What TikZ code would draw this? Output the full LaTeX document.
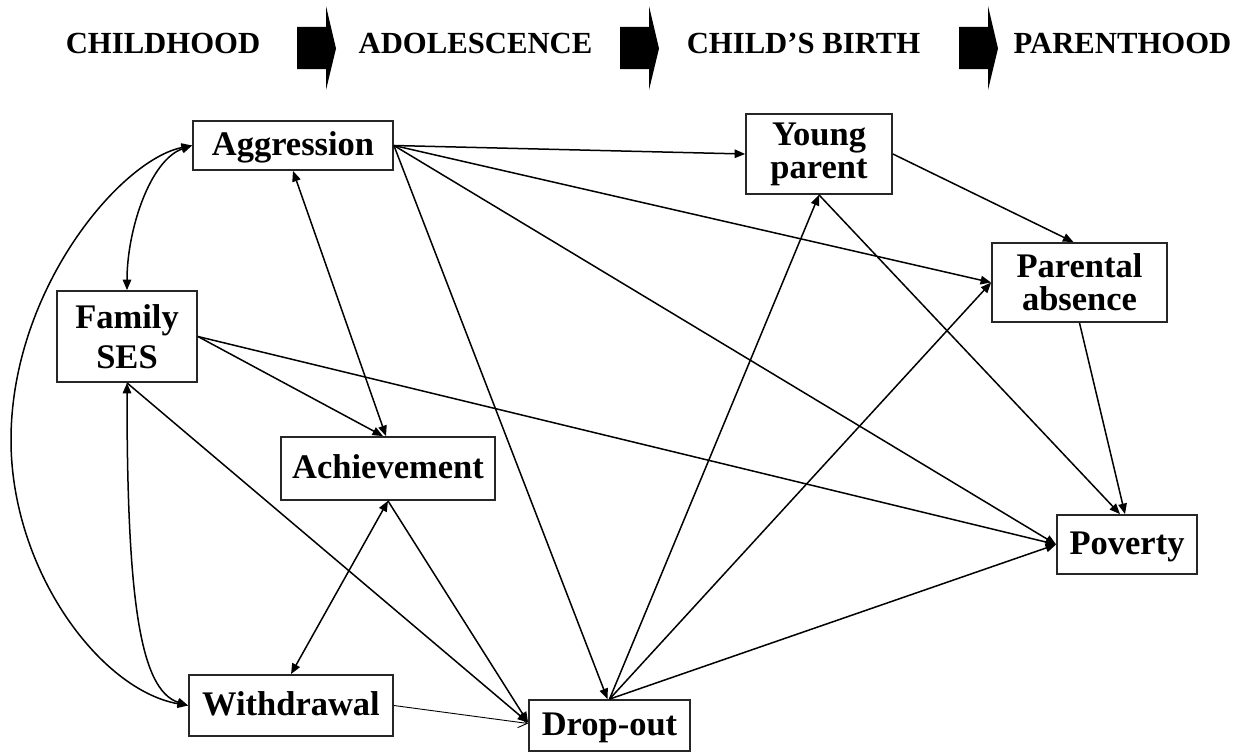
\documentclass[tikz,border=0pt]{standalone}
\usepackage{fontspec}
\setmainfont{Liberation Serif}
\usetikzlibrary{arrows.meta,calc}
\begin{document}
\begin{tikzpicture}[x=1pt,y=-1pt,
  box/.style={draw=black!85, line width=1.8pt, inner sep=0pt, align=center,
    font=\fontsize{34.5}{33}\selectfont\bfseries},
  one/.style={text height=24pt, text depth=4pt},
  hdr/.style={font=\fontsize{30.7}{32}\selectfont\bfseries, inner sep=0pt, anchor=base},
  conn/.style={line width=1.5pt, -{Triangle[length=10.5pt,width=8.5pt]}},
  biconn/.style={line width=1.5pt, {Triangle[length=10.5pt,width=8.5pt]}-{Triangle[length=10.5pt,width=8.5pt]}},
  thinconn/.style={line width=0.9pt, -{Straight Barb[length=9pt,width=11pt]}},
  hdrarrow/.pic={\fill (0,27) -- (29,27) -- (29,6) -- (39,48.5) -- (29,90) -- (29,69) -- (0,69) -- cycle;}
]
\useasboundingbox (0,0) rectangle (1252,752);

% header
\node[hdr] (h1) at (163,54) {CHILDHOOD};
\node[hdr] (h2) at (475.5,54) {ADOLESCENCE};
\node[hdr] (h3) at (803.5,54) {CHILD’S BIRTH};
\node[hdr] (h4) at (1122.5,54) {PARENTHOOD};
\pic at (297,0) {hdrarrow};
\pic at (620,0) {hdrarrow};
\pic at (959,0) {hdrarrow};

% boxes
\node[box, one, minimum width=200pt, minimum height=49pt] (agg) at (293,145.5) {Aggression};
\node[box, minimum width=140pt, minimum height=91pt] (fam) at (127,336.5) {Family\\[7pt]SES};
\node[box, one, minimum width=214pt, minimum height=63pt] (ach) at (388,468.5) {Achievement};
\node[box, one, minimum width=204pt, minimum height=61pt] (with) at (291,705.5) {Withdrawal};
\node[box, one, minimum width=161pt, minimum height=51pt] (drop) at (609.5,725.5) {Drop-out};
\node[box, minimum width=146pt, minimum height=80pt] (young) at (819,154) {Young\\parent};
\node[box, minimum width=175pt, minimum height=79pt] (par) at (1079.5,282.5) {Parental\\absence};
\node[box, one, minimum width=140pt, minimum height=59pt] (pov) at (1127,544.5) {Poverty};

\coordinate (lm) at (11,440);

% curved correlations
\draw[biconn] (fam.north) .. controls (127,230) and (150,160) .. (agg.west);
\draw[biconn] (agg.west) .. controls (120,160) and (11,290) .. (lm) .. controls (11,570) and (100,690) .. (with.west);
\draw[biconn] (fam.south) .. controls (127,600) and (140,690) .. (with.west);

% straight correlations
\draw[biconn] (agg.south) -- ([xshift=-2pt]ach.north);
\draw[biconn] (ach.south) -- (with.north);

% paths
\draw[conn] (fam.east) -- ([xshift=-5pt]ach.north);
\draw[conn] (fam.east) -- (pov.west);
\draw[conn] (fam.south) -- ([yshift=3pt]drop.west);
\draw[thinconn] (with.east) -- ([yshift=2pt]drop.west);
\draw[conn] (ach.south) -- ([yshift=3pt]drop.west);
\draw[conn] (agg.east) -- ([xshift=-2pt]drop.north);
\draw[conn] (agg.east) -- (young.west);
\draw[conn] (agg.east) -- (par.west);
\draw[conn] (agg.east) -- (pov.west);
\draw[conn] (young.east) -- ([xshift=-6pt]par.north);
\draw[conn] (young.south) -- ([xshift=-7pt]pov.north);
\draw[conn] (par.south) -- ([xshift=-2pt]pov.north);
\draw[conn] (drop.north) -- (young.south);
\draw[conn] (drop.north) -- (par.west);
\draw[conn] (drop.north) -- (pov.west);
\end{tikzpicture}
\end{document}
